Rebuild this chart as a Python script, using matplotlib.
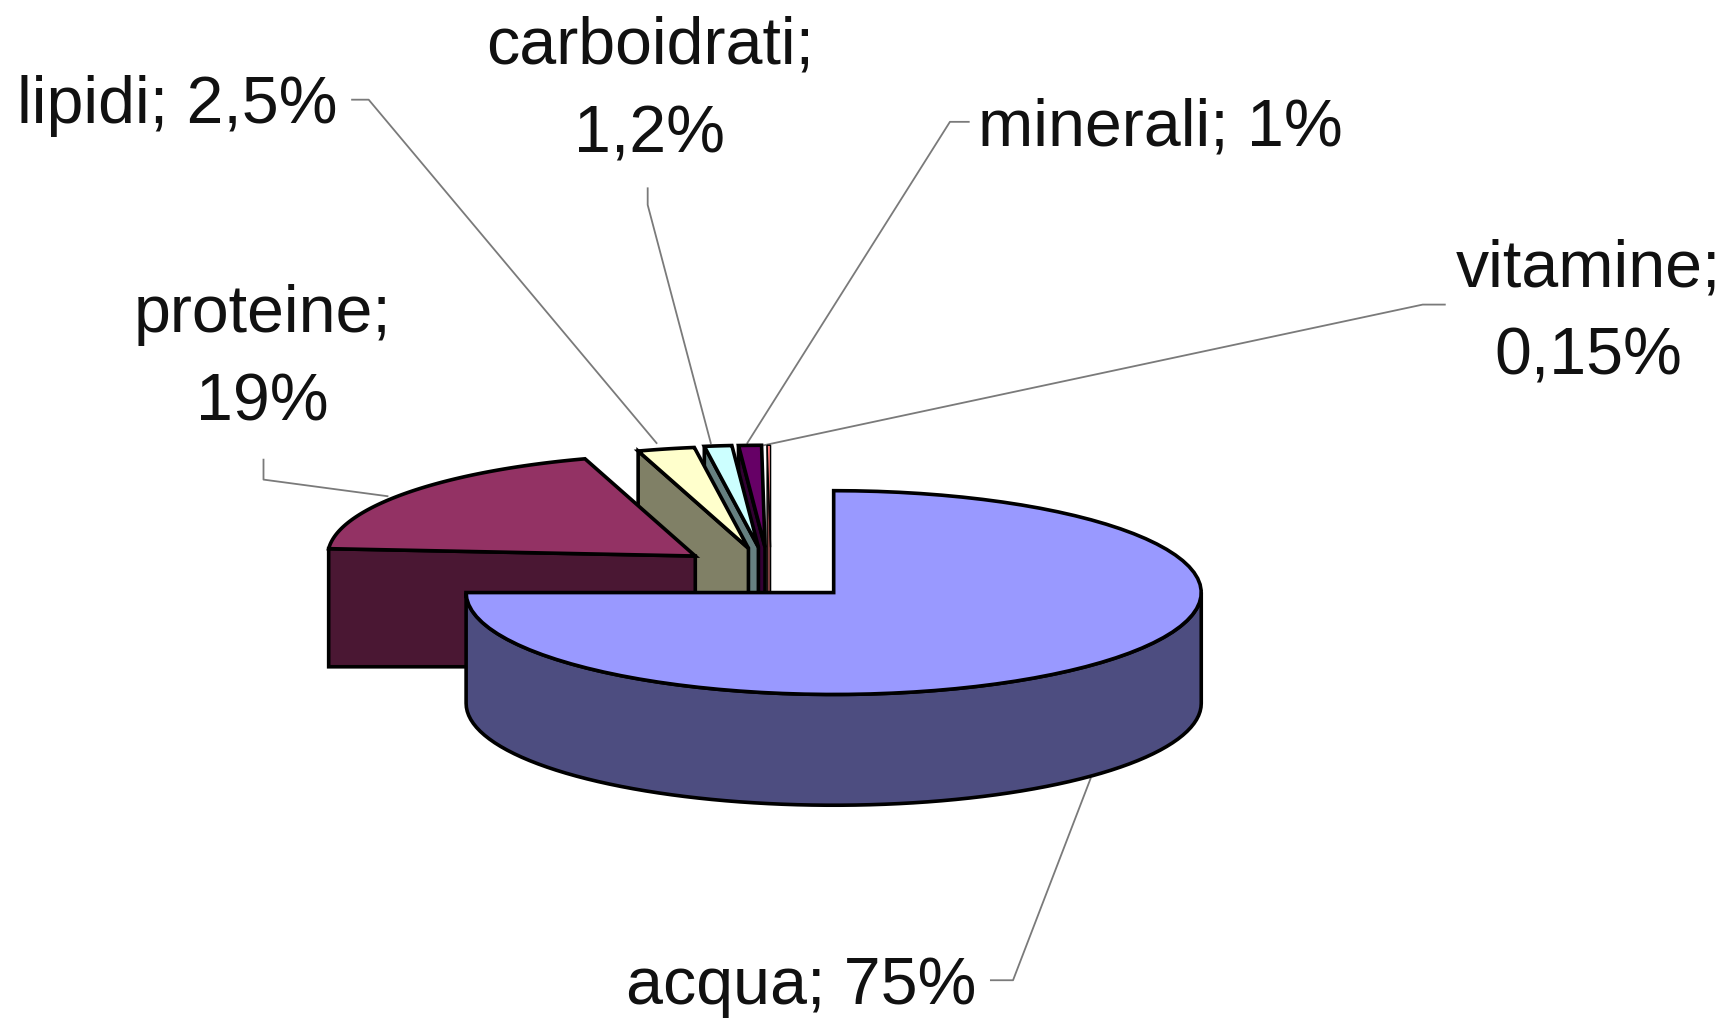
#<<---3D exploded pie, drawn by hand--->>#
import matplotlib as mlp
mlp.use('Agg')
import matplotlib.pyplot as plt
import numpy as np

names = ['acqua', 'proteine', 'lipidi', 'carboidrati', 'minerali', 'vitamine']
values = [75, 19, 2.5, 1.2, 1, 0.15]
value_labels = ['75%', '19%', '2,5%', '1,2%', '1%', '0,15%']
joiners = [' ', '\n', ' ', '\n', ' ', '\n']

#>> Styles
top_colors = ['#9999FF', '#933264', '#FFFFCC', '#CCFFFF', '#660066', '#FF8080']
wall_colors = ['#4D4D80', '#4A1733', '#808066', '#668080', '#330033', '#804040']
edge_widths = [2.6, 2.6, 2.6, 2.6, 2.6, 1.0]
shift_x = [0, -125, -77, -68, -62, -57] #exploded slices, in px
shift_y = [0, -33, -40, -41, -41, -41]
label_x = [724, 237, 160, 587, 1048, 1435]
label_y = [891, 324, 96, 82, 116, 283]
leaders = [[(895, 885), (915, 885), (985, 703)],
           [(238, 415), (238, 433), (350, 448)],
           [(318, 90), (333, 90), (593, 400)],
           [(585, 170), (585, 185), (642, 400)],
           [(875, 110), (858, 110), (675, 400)],
           [(1305, 275), (1285, 275), (690, 402)]]
cx, cy = 753, 535
rx, ry = 332, 92
depth = 100

#>> Angles clockwise from 12 o'clock: acqua starts at the top, the rest closes back on it
sweep = [v * 3.6 for v in values]
starts = [0] * 6
ends = [sweep[0]] * 6
edge = 360
for i in range(5, 0, -1):
    ends[i] = edge
    edge -= sweep[i]
    starts[i] = edge


def rim(i, a0, a1, n=80):
    t = np.radians(np.linspace(a0, a1, n))
    return cx + shift_x[i] + rx * np.sin(t), cy + shift_y[i] - ry * np.cos(t)


fig = plt.figure(figsize=(17.36, 10.19), dpi=100)
ax = fig.add_axes([0, 0, 1, 1])
ax.set_xlim(0, 1568)
ax.set_ylim(920, 0)
ax.axis('off')

#>> Leader lines
for pts in leaders:
    ax.plot([p[0] for p in pts], [p[1] for p in pts], color='#7A7A7A', lw=1.3, zorder=1)

#>> Slices, back to front
for i in [5, 4, 3, 2, 1, 0]:
    ax_, ay_ = cx + shift_x[i], cy + shift_y[i]
    if i == 0:
        wx, wy = rim(i, 90, 270)
        wall_x = np.r_[wx, wx[::-1]]
        wall_y = np.r_[wy, wy[::-1] + depth]
    else:
        wx, wy = rim(i, starts[i], starts[i], 1)
        wall_x = [wx[0], ax_, ax_, wx[0]]
        wall_y = [wy[0], ay_, ay_ + depth, ay_ + depth]
    ax.fill(wall_x, wall_y, facecolor=wall_colors[i], edgecolor='black', lw=edge_widths[i], zorder=2 + 6 - i)
    tx, ty = rim(i, starts[i], ends[i])
    ax.fill(np.r_[ax_, tx], np.r_[ay_, ty], facecolor=top_colors[i], edgecolor='black', lw=edge_widths[i], zorder=2 + 6 - i)

#>> Labels
for i in range(6):
    ax.text(label_x[i], label_y[i], names[i] + ';' + joiners[i] + value_labels[i], family='Liberation Sans',
            fontsize=47.7, ha='center', va='center', ma='center', linespacing=1.55, color='#111111', zorder=20)

fig.savefig('out.png', dpi=100)
